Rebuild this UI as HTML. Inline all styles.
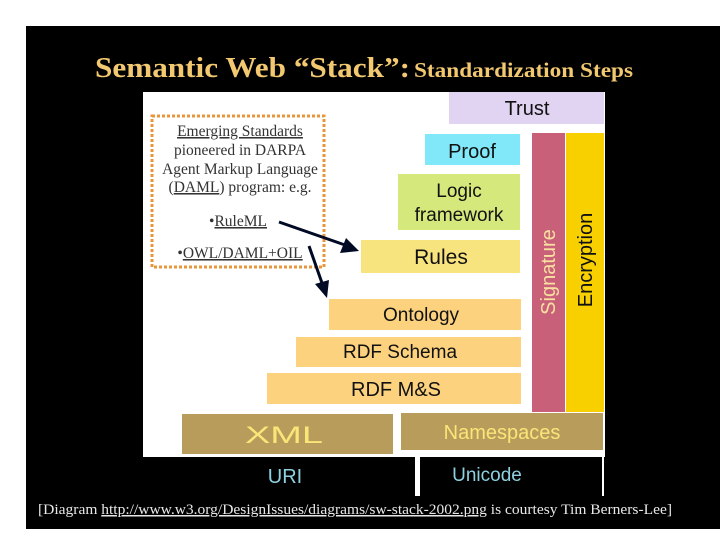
<!DOCTYPE html>
<html><head><meta charset="utf-8"><style>
html,body{margin:0;padding:0;background:#fff;width:720px;height:540px;overflow:hidden}
</style></head><body>
<svg width="720" height="540" xmlns="http://www.w3.org/2000/svg">
<rect x="0" y="0" width="720" height="540" fill="#fff"/>
<rect x="26" y="26" width="694" height="503" fill="#000"/>
<text x="95" y="77" font-family="Liberation Serif,serif" font-weight="bold" fill="#f2c870"><tspan font-size="28" textLength="315" lengthAdjust="spacingAndGlyphs">Semantic Web “Stack”:</tspan><tspan x="414" font-size="21" textLength="219" lengthAdjust="spacingAndGlyphs">Standardization Steps</tspan></text>
<rect x="143" y="92" width="462" height="365" fill="#fff"/>
<rect x="415" y="456" width="5" height="40" fill="#fff"/>
<rect x="602" y="456" width="2" height="40" fill="#fff"/>
<rect x="449" y="92" width="155" height="32" fill="#e0d4f2"/>
<text x="527" y="115" font-family="Liberation Sans,sans-serif" font-size="20" text-anchor="middle" fill="#111">Trust</text>
<rect x="425" y="134" width="95" height="31" fill="#80e8f8"/>
<text x="472" y="158" font-family="Liberation Sans,sans-serif" font-size="20" text-anchor="middle" fill="#111">Proof</text>
<rect x="398" y="174" width="122" height="56" fill="#d4e87c"/>
<text x="459" y="197" font-family="Liberation Sans,sans-serif" font-size="19" text-anchor="middle" fill="#111">Logic</text>
<text x="459" y="221" font-family="Liberation Sans,sans-serif" font-size="19" text-anchor="middle" fill="#111">framework</text>
<rect x="361" y="240" width="159" height="33" fill="#f8e47e"/>
<text x="441" y="264" font-family="Liberation Sans,sans-serif" font-size="21" text-anchor="middle" fill="#111">Rules</text>
<rect x="532" y="133" width="33" height="279" fill="#c8607a"/>
<text transform="translate(555,272) rotate(-90)" font-family="Liberation Sans,sans-serif" font-size="20" text-anchor="middle" fill="#f8e0a0">Signature</text>
<rect x="566" y="133" width="38" height="279" fill="#f8d000"/>
<text transform="translate(592,260) rotate(-90)" font-family="Liberation Sans,sans-serif" font-size="20" text-anchor="middle" fill="#111">Encryption</text>
<rect x="329" y="299" width="192" height="31" fill="#fcd27e"/>
<text x="421" y="321" font-family="Liberation Sans,sans-serif" font-size="19" text-anchor="middle" fill="#111">Ontology</text>
<rect x="296" y="337" width="225" height="30" fill="#fcd27e"/>
<text x="400" y="358" font-family="Liberation Sans,sans-serif" font-size="19" text-anchor="middle" fill="#111">RDF Schema</text>
<rect x="267" y="373" width="254" height="31" fill="#fcd27e"/>
<text x="396" y="396" font-family="Liberation Sans,sans-serif" font-size="20" text-anchor="middle" fill="#111">RDF M&amp;S</text>
<rect x="182" y="414" width="211" height="40" fill="#b89c5c"/>
<text x="284" y="443" font-family="Liberation Sans,sans-serif" font-size="24" text-anchor="middle" fill="#f8e678" textLength="78" lengthAdjust="spacingAndGlyphs">XML</text>
<rect x="401" y="413" width="202" height="37" fill="#b89c5c"/>
<text x="502" y="439" font-family="Liberation Sans,sans-serif" font-size="20" text-anchor="middle" fill="#f8e678">Namespaces</text>
<text x="285" y="483" font-family="Liberation Sans,sans-serif" font-size="20" text-anchor="middle" fill="#8ed0e0">URI</text>
<text x="487" y="481" font-family="Liberation Sans,sans-serif" font-size="19" text-anchor="middle" fill="#8ed0e0">Unicode</text>
<rect x="152" y="116" width="172" height="151" fill="none" stroke="#e8963c" stroke-width="3" stroke-dasharray="3,2"/>
<g font-family="Liberation Serif,serif" font-size="15.5" text-anchor="middle" fill="#333">
<text x="240" y="136" text-decoration="underline">Emerging Standards</text>
<text x="240" y="155">pioneered in DARPA</text>
<text x="240" y="174">Agent Markup Language</text>
<text x="240" y="192">(<tspan text-decoration="underline">DAML</tspan>) program: e.g.</text>
<text x="238" y="226">•<tspan text-decoration="underline">RuleML</tspan></text>
<text x="240" y="258">•<tspan text-decoration="underline">OWL/DAML+OIL</tspan></text>
</g>
<g stroke="#000a24" stroke-width="3" fill="#000a24">
<line x1="279" y1="222" x2="345" y2="245"/>
<polygon points="359,251 340,253 346,238" stroke="none"/>
<line x1="309" y1="246" x2="322" y2="283"/>
<polygon points="327,298 315,284 329,280" stroke="none"/>
</g>
<text x="38" y="514" font-family="Liberation Serif,serif" font-size="15" fill="#e8e8e8" textLength="634" lengthAdjust="spacingAndGlyphs">[Diagram <tspan text-decoration="underline">http://www.w3.org/DesignIssues/diagrams/sw-stack-2002.png</tspan> is courtesy Tim Berners-Lee]</text>
</svg>
</body></html>
